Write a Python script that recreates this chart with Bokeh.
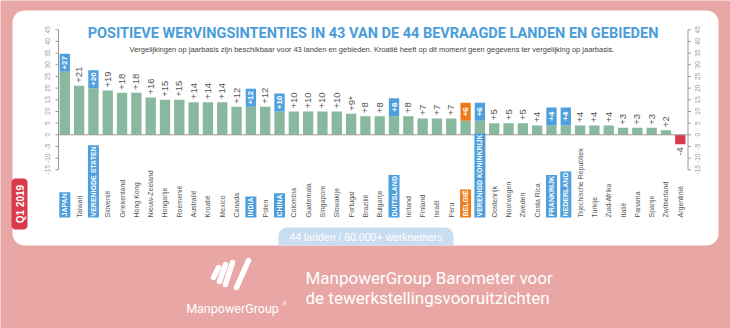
import numpy as np
from bokeh.plotting import figure
from bokeh.models import Range1d, ColumnDataSource
from bokeh.core.properties import value
from bokeh.embed import file_html
from bokeh.resources import INLINE

# ---------------- data ----------------
countries = ["JAPAN", "Taiwan", "VERENIGDE STATEN", "Slovenië", "Griekenland", "Hong Kong",
             "Nieuw-Zeeland", "Hongarije", "Roemenië", "Australië", "Kroatië", "Mexico",
             "Canada", "INDIA", "Polen", "CHINA", "Colombia", "Guatemala", "Singapore",
             "Slowakije", "Portugal", "Brazilië", "Bulgarije", "DUITSLAND", "Ierland",
             "Finland", "Israël", "Peru", "BELGIË", "VERENIGD KONINKRIJK", "Oostenrijk",
             "Noorwegen", "Zweden", "Costa Rica", "FRANKRIJK", "NEDERLAND",
             "Tsjechische Republiek", "Turkije", "Zuid-Afrika", "Italië", "Panama",
             "Spanje", "Zwitserland", "Argentinië"]
outlook = [27, 21, 20, 19, 18, 18, 16, 15, 15, 14, 14, 14, 12, 12, 12, 10, 10, 10, 10, 10,
           9, 8, 8, 8, 8, 7, 7, 7, 6, 6, 5, 5, 5, 4, 4, 4, 4, 4, 4, 3, 3, 3, 2, -4]
key_markets = ["JAPAN", "VERENIGDE STATEN", "INDIA", "CHINA", "DUITSLAND",
               "VERENIGD KONINKRIJK", "FRANKRIJK", "NEDERLAND"]
home_market = ["BELGIË"]
footnoted = ["Portugal"]
axis_ticks = [-15, -10, -5, 0, 5, 10, 15, 20, 25, 30, 35, 40, 45]

title = "POSITIEVE WERVINGSINTENTIES IN 43 VAN DE 44 BEVRAAGDE LANDEN EN GEBIEDEN"
subtitle = ("Vergelijkingen op jaarbasis zijn beschikbaar voor 43 landen en gebieden. "
            "Kroatië heeft op dit moment geen gegevens ter vergelijking op jaarbasis.")
pill_text = "44 landen / 60.000+ werknemers"
tag_text = "Q1 2019"
brand = "ManpowerGroup"
footer_lines = ["ManpowerGroup Barometer voor", "de tewerkstellingsvooruitzichten"]

# ---------------- style ----------------
PINK = "#E8A6A4"
GREEN = "#88B89E"
BLUE = "#4E9FDC"
ORANGE = "#EE7B1A"
RED = "#D83A4B"
TITLE_BLUE = "#4A9DDB"
GREY = "#555555"
AXIS_GREY = "#999999"

W, H = 730, 328
X0, STEP = 64.3, 14.314          # pixel centre of first bar, pixel step
ZERO_PX, PPU = 134.3, 140 / 60   # pixel of value 0, pixels per unit
BOX_UNITS = 18 / PPU
LEFT_AX, RIGHT_AX = 58, 687.5
CAT_Y = 217

p = figure(width=W, height=H, x_range=Range1d(0, W), y_range=Range1d(H, 0),
           x_axis_type=None, y_axis_type=None, toolbar_location=None,
           output_backend="svg", min_border=0, outline_line_color=None,
           background_fill_color=PINK, border_fill_color=PINK)
p.extra_x_ranges = {"idx": Range1d(-X0 / STEP, (W - X0) / STEP)}
p.extra_y_ranges = {"val": Range1d(-(H - ZERO_PX) / PPU, ZERO_PX / PPU)}


def rrect(x0, y0, x1, y1, r, n=10):
    rs = r if isinstance(r, (list, tuple)) else [r] * 4  # tl, tr, br, bl
    pts_x, pts_y = [], []
    corners = [((x0 + rs[0], y0 + rs[0]), np.pi, 1.5 * np.pi, rs[0]),
               ((x1 - rs[1], y0 + rs[1]), 1.5 * np.pi, 2 * np.pi, rs[1]),
               ((x1 - rs[2], y1 - rs[2]), 0, 0.5 * np.pi, rs[2]),
               ((x0 + rs[3], y1 - rs[3]), 0.5 * np.pi, np.pi, rs[3])]
    for (cx, cy), a0, a1, rr in corners:
        a = np.linspace(a0, a1, n)
        pts_x += list(cx + rr * np.cos(a))
        pts_y += list(cy + rr * np.sin(a))
    return pts_x, pts_y


# white panel
px_, py_ = rrect(12, 10, 718, 245, 12)
p.patch(px_, py_, fill_color="white", line_color=None)

# pill
px_, py_ = rrect(278, 227, 453, 245, [9, 9, 0, 0])
p.patch(px_, py_, fill_color="#C9DDF0", line_color=None)
p.text(x=[365.5], y=[236.5], text=[pill_text], text_align="center", text_baseline="middle",
       text_font=value("Liberation Sans"), text_font_size="10.5px", text_color="white")

# Q1 tag
px_, py_ = rrect(11, 178, 27, 229, 4)
p.patch(px_, py_, fill_color=RED, line_color=None)
p.text(x=[19.5], y=[203.5], text=[tag_text], angle=np.pi / 2, text_align="center",
       text_baseline="middle", text_font=value("Liberation Sans"), text_font_size="10px",
       text_font_style="bold", text_color="white")

# titles
p.text(x=[372.5], y=[33], text=[title], text_align="center", text_baseline="middle",
       text_font=value("Roboto"), text_font_size="14.5px", text_font_style="bold",
       text_color=TITLE_BLUE)
p.text(x=[371.5], y=[49], text=[subtitle], text_align="center", text_baseline="middle",
       text_font=value("Liberation Sans"), text_font_size="7.5px", text_color="#444444")

# ---------------- bars ----------------
n = len(countries)
idx = list(range(n))
kind = ["home" if c in home_market else "key" if c in key_markets else "" for c in countries]
labels = [f"{v:+d}" + ("*" if c in footnoted else "") for c, v in zip(countries, outlook)]
src = ColumnDataSource(dict(
    i=idx, v=outlook, c=countries, lab=labels, kind=kind,
    col=[RED if v < 0 else GREEN for v in outlook],
))
p.vbar(x="i", top="v", bottom=0, width=0.72, fill_color="col", line_color=None,
       source=src, x_range_name="idx", y_range_name="val")

# zero line and axes
p.segment(x0=[LEFT_AX], y0=[0], x1=[RIGHT_AX], y1=[0], line_color=AXIS_GREY, line_width=1,
          y_range_name="val")
for ax, sgn, lx in [(LEFT_AX, -1, 47), (RIGHT_AX, 1, 697)]:
    p.segment(x0=[ax], y0=[axis_ticks[0]], x1=[ax], y1=[axis_ticks[-1]],
              line_color=AXIS_GREY, line_width=1, y_range_name="val")
    p.segment(x0=[ax] * len(axis_ticks), y0=axis_ticks, x1=[ax + sgn * 3] * len(axis_ticks),
              y1=axis_ticks, line_color=AXIS_GREY, line_width=1, y_range_name="val")
    p.text(x=[lx] * len(axis_ticks), y=axis_ticks, text=[str(t) for t in axis_ticks],
           angle=np.pi / 2, text_align="center", text_baseline="middle",
           text_font=value("Liberation Sans"), text_font_size="6.5px", text_color=AXIS_GREY,
           y_range_name="val")

hl = [k != "" for k in kind]
hsrc = ColumnDataSource(dict(
    i=[i for i, h in zip(idx, hl) if h],
    v=[v for v, h in zip(outlook, hl) if h],
    lab=[l for l, h in zip(labels, hl) if h],
    c=[c for c, h in zip(countries, hl) if h],
    col=[ORANGE if k == "home" else BLUE for k, h in zip(kind, hl) if h],
))
hsrc.data["top"] = [v + BOX_UNITS for v in hsrc.data["v"]]
hsrc.data["mid"] = [v + BOX_UNITS / 2 for v in hsrc.data["v"]]
p.vbar(x="i", bottom="v", top="top", width=0.72, fill_color="col", line_color=None,
       source=hsrc, x_range_name="idx", y_range_name="val")
p.text(x="i", y="mid", text="lab", source=hsrc, angle=np.pi / 2, text_align="center",
       text_baseline="middle", text_font=value("Liberation Sans"), text_font_size="8px",
       text_font_style="bold", text_color="white", x_range_name="idx", y_range_name="val")

pos = [(not h) and v >= 0 for v, h in zip(outlook, hl)]
psrc = ColumnDataSource(dict(
    i=[i for i, f in zip(idx, pos) if f],
    v=[v for v, f in zip(outlook, pos) if f],
    lab=[l for l, f in zip(labels, pos) if f],
))
p.text(x="i", y="v", text="lab", source=psrc, angle=np.pi / 2, text_align="left",
       text_baseline="middle", y_offset=-3, text_font=value("Liberation Sans"),
       text_font_size="9.5px", text_color=GREY, x_range_name="idx", y_range_name="val")

neg = [v < 0 for v in outlook]
nsrc = ColumnDataSource(dict(
    i=[i for i, f in zip(idx, neg) if f],
    v=[v for v, f in zip(outlook, neg) if f],
    lab=[l for l, f in zip(labels, neg) if f],
))
p.text(x="i", y="v", text="lab", source=nsrc, angle=np.pi / 2, text_align="right",
       text_baseline="middle", y_offset=3, text_font=value("Liberation Sans"),
       text_font_size="9.5px", text_color=GREY, x_range_name="idx", y_range_name="val")

# category labels
csrc = ColumnDataSource(dict(
    i=[i for i, h in zip(idx, hl) if not h],
    c=[c for c, h in zip(countries, hl) if not h],
))
p.text(x="i", y=CAT_Y, text="c", source=csrc, angle=np.pi / 2, text_align="left",
       text_baseline="middle", text_font=value("Liberation Sans"), text_font_size="7px",
       text_color=GREY, x_range_name="idx")
p.text(x="i", y=CAT_Y, text="c", source=hsrc, angle=np.pi / 2, text_align="left",
       text_baseline="middle", text_font=value("Liberation Sans"), text_font_size="7px",
       text_font_style="bold", text_color="white", background_fill_color="col",
       padding=(1, 2), x_range_name="idx")

# ---------------- footer ----------------
logo_xs = [[213, 218], [219, 225], [225, 232], [236, 248]]
logo_ys = [[277, 267], [281, 264], [284, 262], [287, 260]]
p.multi_line(xs=logo_xs, ys=logo_ys, line_color="white", line_width=5.5, line_cap="round")
p.text(x=[232], y=[308], text=[brand], text_align="center", text_baseline="middle",
       text_font=value("Roboto"), text_font_size="12.5px", text_color="white")
p.text(x=[282], y=[303], text=["®"], text_align="left", text_baseline="middle",
       text_font=value("Roboto"), text_font_size="5px", text_color="white")
p.text(x=[305, 305], y=[277, 297], text=footer_lines, text_align="left",
       text_baseline="middle", text_font=value("Roboto"), text_font_size="17px",
       text_color="white")

open("out.html", "w").write(file_html(p, INLINE))
